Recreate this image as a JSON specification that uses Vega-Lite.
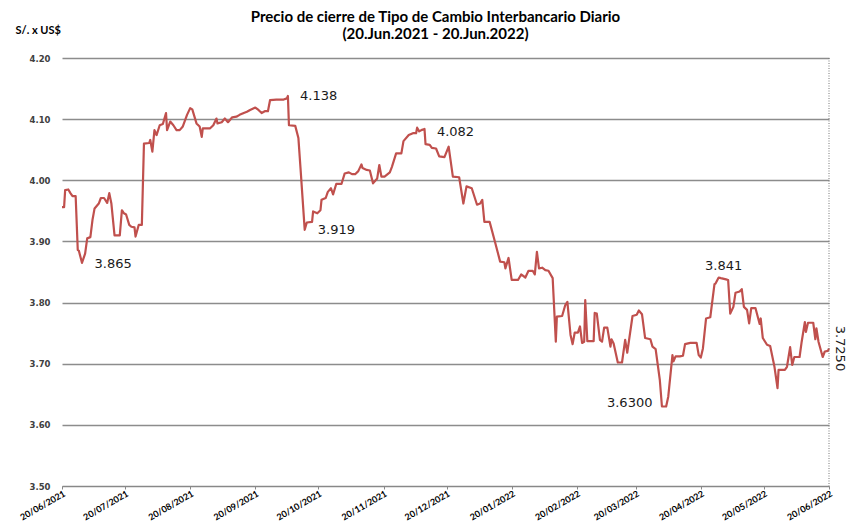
{
  "$schema": "https://vega.github.io/schema/vega-lite/v6.json",
  "width": 767,
  "height": 428,
  "autosize": {"type": "none"},
  "padding": {"left": 62, "top": 58, "right": 33, "bottom": 37},
  "background": "white",
  "config": {"view": {"stroke": null}},
  "title": {
    "text": ["Precio de cierre de Tipo de Cambio Interbancario Diario", "(20.Jun.2021 - 20.Jun.2022)"],
    "font": "Lato",
    "fontSize": 15,
    "fontWeight": "bold",
    "color": "#000000",
    "anchor": "middle",
    "offset": -18,
    "dx": -10,
    "lineHeight": 17
  },
  "datasets": {
    "fx": [
      {"date": "2021-06-20T00:00", "value": 3.956},
      {"date": "2021-06-21T00:00", "value": 3.956},
      {"date": "2021-06-21T12:00", "value": 3.984},
      {"date": "2021-06-23T00:00", "value": 3.985},
      {"date": "2021-06-24T00:00", "value": 3.979},
      {"date": "2021-06-25T00:00", "value": 3.974},
      {"date": "2021-06-26T12:00", "value": 3.974},
      {"date": "2021-06-27T12:00", "value": 3.886},
      {"date": "2021-06-28T00:00", "value": 3.885},
      {"date": "2021-06-29T12:00", "value": 3.865},
      {"date": "2021-07-01T00:00", "value": 3.880},
      {"date": "2021-07-02T00:00", "value": 3.905},
      {"date": "2021-07-03T12:00", "value": 3.907},
      {"date": "2021-07-04T12:00", "value": 3.935},
      {"date": "2021-07-05T12:00", "value": 3.954},
      {"date": "2021-07-07T12:00", "value": 3.962},
      {"date": "2021-07-08T12:00", "value": 3.971},
      {"date": "2021-07-10T00:00", "value": 3.971},
      {"date": "2021-07-11T12:00", "value": 3.963},
      {"date": "2021-07-12T12:00", "value": 3.979},
      {"date": "2021-07-13T12:00", "value": 3.962},
      {"date": "2021-07-15T00:00", "value": 3.910},
      {"date": "2021-07-17T12:00", "value": 3.910},
      {"date": "2021-07-18T12:00", "value": 3.951},
      {"date": "2021-07-19T12:00", "value": 3.946},
      {"date": "2021-07-20T12:00", "value": 3.944},
      {"date": "2021-07-22T00:00", "value": 3.927},
      {"date": "2021-07-23T00:00", "value": 3.924},
      {"date": "2021-07-24T12:00", "value": 3.923},
      {"date": "2021-07-25T00:00", "value": 3.908},
      {"date": "2021-07-26T12:00", "value": 3.927},
      {"date": "2021-07-28T00:00", "value": 3.927},
      {"date": "2021-07-29T00:00", "value": 4.060},
      {"date": "2021-07-31T12:00", "value": 4.061},
      {"date": "2021-08-01T00:00", "value": 4.066},
      {"date": "2021-08-02T00:00", "value": 4.047},
      {"date": "2021-08-03T00:00", "value": 4.082},
      {"date": "2021-08-04T00:00", "value": 4.074},
      {"date": "2021-08-05T12:00", "value": 4.090},
      {"date": "2021-08-07T00:00", "value": 4.092},
      {"date": "2021-08-08T12:00", "value": 4.110},
      {"date": "2021-08-09T00:00", "value": 4.082},
      {"date": "2021-08-10T12:00", "value": 4.096},
      {"date": "2021-08-12T00:00", "value": 4.090},
      {"date": "2021-08-13T12:00", "value": 4.082},
      {"date": "2021-08-15T00:00", "value": 4.082},
      {"date": "2021-08-16T12:00", "value": 4.088},
      {"date": "2021-08-18T12:00", "value": 4.107},
      {"date": "2021-08-20T00:00", "value": 4.118},
      {"date": "2021-08-21T00:00", "value": 4.116},
      {"date": "2021-08-23T00:00", "value": 4.093},
      {"date": "2021-08-24T12:00", "value": 4.088},
      {"date": "2021-08-25T12:00", "value": 4.071},
      {"date": "2021-08-26T00:00", "value": 4.085},
      {"date": "2021-08-29T12:00", "value": 4.085},
      {"date": "2021-08-31T00:00", "value": 4.090},
      {"date": "2021-09-01T12:00", "value": 4.101},
      {"date": "2021-09-02T00:00", "value": 4.093},
      {"date": "2021-09-04T00:00", "value": 4.095},
      {"date": "2021-09-05T12:00", "value": 4.101},
      {"date": "2021-09-07T00:00", "value": 4.095},
      {"date": "2021-09-09T00:00", "value": 4.103},
      {"date": "2021-09-11T00:00", "value": 4.104},
      {"date": "2021-09-12T12:00", "value": 4.107},
      {"date": "2021-09-14T12:00", "value": 4.110},
      {"date": "2021-09-16T00:00", "value": 4.112},
      {"date": "2021-09-17T12:00", "value": 4.115},
      {"date": "2021-09-20T00:00", "value": 4.119},
      {"date": "2021-09-21T12:00", "value": 4.115},
      {"date": "2021-09-23T00:00", "value": 4.110},
      {"date": "2021-09-24T12:00", "value": 4.113},
      {"date": "2021-09-26T00:00", "value": 4.113},
      {"date": "2021-09-27T00:00", "value": 4.131},
      {"date": "2021-09-30T00:00", "value": 4.132},
      {"date": "2021-10-03T12:00", "value": 4.132},
      {"date": "2021-10-05T00:00", "value": 4.134},
      {"date": "2021-10-05T12:00", "value": 4.138},
      {"date": "2021-10-06T00:00", "value": 4.090},
      {"date": "2021-10-09T00:00", "value": 4.089},
      {"date": "2021-10-10T12:00", "value": 4.069},
      {"date": "2021-10-11T12:00", "value": 4.020},
      {"date": "2021-10-13T12:00", "value": 3.919},
      {"date": "2021-10-14T12:00", "value": 3.931},
      {"date": "2021-10-17T00:00", "value": 3.932},
      {"date": "2021-10-17T12:00", "value": 3.949},
      {"date": "2021-10-19T12:00", "value": 3.946},
      {"date": "2021-10-21T00:00", "value": 3.951},
      {"date": "2021-10-21T12:00", "value": 3.968},
      {"date": "2021-10-23T12:00", "value": 3.971},
      {"date": "2021-10-24T12:00", "value": 3.981},
      {"date": "2021-10-26T00:00", "value": 3.987},
      {"date": "2021-10-27T00:00", "value": 3.977},
      {"date": "2021-10-28T12:00", "value": 3.994},
      {"date": "2021-10-31T00:00", "value": 3.994},
      {"date": "2021-11-01T12:00", "value": 4.011},
      {"date": "2021-11-03T12:00", "value": 4.013},
      {"date": "2021-11-05T00:00", "value": 4.010},
      {"date": "2021-11-06T12:00", "value": 4.010},
      {"date": "2021-11-08T00:00", "value": 4.015},
      {"date": "2021-11-09T12:00", "value": 4.026},
      {"date": "2021-11-10T00:00", "value": 4.020},
      {"date": "2021-11-12T00:00", "value": 4.017},
      {"date": "2021-11-13T12:00", "value": 4.016},
      {"date": "2021-11-15T00:00", "value": 3.995},
      {"date": "2021-11-17T00:00", "value": 4.003},
      {"date": "2021-11-18T00:00", "value": 4.025},
      {"date": "2021-11-19T00:00", "value": 4.006},
      {"date": "2021-11-20T12:00", "value": 4.006},
      {"date": "2021-11-23T00:00", "value": 4.013},
      {"date": "2021-11-24T00:00", "value": 4.022},
      {"date": "2021-11-26T00:00", "value": 4.044},
      {"date": "2021-11-28T12:00", "value": 4.044},
      {"date": "2021-11-29T12:00", "value": 4.064},
      {"date": "2021-12-02T00:00", "value": 4.074},
      {"date": "2021-12-04T00:00", "value": 4.077},
      {"date": "2021-12-05T12:00", "value": 4.077},
      {"date": "2021-12-06T00:00", "value": 4.086},
      {"date": "2021-12-07T00:00", "value": 4.080},
      {"date": "2021-12-08T00:00", "value": 4.082},
      {"date": "2021-12-09T12:00", "value": 4.084},
      {"date": "2021-12-10T00:00", "value": 4.059},
      {"date": "2021-12-12T00:00", "value": 4.058},
      {"date": "2021-12-13T00:00", "value": 4.053},
      {"date": "2021-12-15T00:00", "value": 4.052},
      {"date": "2021-12-16T12:00", "value": 4.039},
      {"date": "2021-12-19T00:00", "value": 4.038},
      {"date": "2021-12-21T00:00", "value": 4.055},
      {"date": "2021-12-23T00:00", "value": 4.006},
      {"date": "2021-12-26T00:00", "value": 4.005},
      {"date": "2021-12-28T00:00", "value": 3.962},
      {"date": "2021-12-29T12:00", "value": 3.990},
      {"date": "2022-01-01T00:00", "value": 3.987},
      {"date": "2022-01-03T12:00", "value": 3.960},
      {"date": "2022-01-05T00:00", "value": 3.962},
      {"date": "2022-01-06T00:00", "value": 3.968},
      {"date": "2022-01-07T00:00", "value": 3.932},
      {"date": "2022-01-09T12:00", "value": 3.932},
      {"date": "2022-01-12T00:00", "value": 3.900},
      {"date": "2022-01-14T12:00", "value": 3.867},
      {"date": "2022-01-16T12:00", "value": 3.866},
      {"date": "2022-01-17T00:00", "value": 3.856},
      {"date": "2022-01-18T12:00", "value": 3.873},
      {"date": "2022-01-20T00:00", "value": 3.837},
      {"date": "2022-01-23T00:00", "value": 3.837},
      {"date": "2022-01-24T12:00", "value": 3.846},
      {"date": "2022-01-26T12:00", "value": 3.841},
      {"date": "2022-01-28T00:00", "value": 3.852},
      {"date": "2022-01-30T00:00", "value": 3.852},
      {"date": "2022-01-31T00:00", "value": 3.846},
      {"date": "2022-02-01T00:00", "value": 3.883},
      {"date": "2022-02-02T00:00", "value": 3.856},
      {"date": "2022-02-03T12:00", "value": 3.857},
      {"date": "2022-02-05T00:00", "value": 3.853},
      {"date": "2022-02-06T12:00", "value": 3.852},
      {"date": "2022-02-08T12:00", "value": 3.840},
      {"date": "2022-02-10T00:00", "value": 3.736},
      {"date": "2022-02-10T12:00", "value": 3.777},
      {"date": "2022-02-13T00:00", "value": 3.778},
      {"date": "2022-02-14T12:00", "value": 3.796},
      {"date": "2022-02-15T12:00", "value": 3.801},
      {"date": "2022-02-17T00:00", "value": 3.747},
      {"date": "2022-02-18T00:00", "value": 3.732},
      {"date": "2022-02-19T00:00", "value": 3.751},
      {"date": "2022-02-20T12:00", "value": 3.751},
      {"date": "2022-02-21T12:00", "value": 3.761},
      {"date": "2022-02-22T12:00", "value": 3.734},
      {"date": "2022-02-23T12:00", "value": 3.736},
      {"date": "2022-02-24T00:00", "value": 3.804},
      {"date": "2022-02-25T00:00", "value": 3.737},
      {"date": "2022-02-28T00:00", "value": 3.737},
      {"date": "2022-02-28T12:00", "value": 3.783},
      {"date": "2022-03-01T12:00", "value": 3.782},
      {"date": "2022-03-03T00:00", "value": 3.739},
      {"date": "2022-03-04T00:00", "value": 3.736},
      {"date": "2022-03-05T00:00", "value": 3.759},
      {"date": "2022-03-06T12:00", "value": 3.759},
      {"date": "2022-03-08T00:00", "value": 3.728},
      {"date": "2022-03-08T12:00", "value": 3.740},
      {"date": "2022-03-09T12:00", "value": 3.733},
      {"date": "2022-03-11T12:00", "value": 3.702},
      {"date": "2022-03-13T12:00", "value": 3.702},
      {"date": "2022-03-15T00:00", "value": 3.739},
      {"date": "2022-03-16T00:00", "value": 3.718},
      {"date": "2022-03-18T12:00", "value": 3.778},
      {"date": "2022-03-20T12:00", "value": 3.780},
      {"date": "2022-03-21T12:00", "value": 3.787},
      {"date": "2022-03-23T00:00", "value": 3.781},
      {"date": "2022-03-24T12:00", "value": 3.742},
      {"date": "2022-03-27T00:00", "value": 3.740},
      {"date": "2022-03-28T00:00", "value": 3.728},
      {"date": "2022-03-29T12:00", "value": 3.724},
      {"date": "2022-03-31T12:00", "value": 3.673},
      {"date": "2022-04-01T12:00", "value": 3.630},
      {"date": "2022-04-03T12:00", "value": 3.630},
      {"date": "2022-04-04T12:00", "value": 3.646},
      {"date": "2022-04-06T12:00", "value": 3.714},
      {"date": "2022-04-07T00:00", "value": 3.704},
      {"date": "2022-04-08T00:00", "value": 3.712},
      {"date": "2022-04-10T00:00", "value": 3.712},
      {"date": "2022-04-11T12:00", "value": 3.713},
      {"date": "2022-04-12T12:00", "value": 3.732},
      {"date": "2022-04-15T00:00", "value": 3.734},
      {"date": "2022-04-18T00:00", "value": 3.734},
      {"date": "2022-04-19T00:00", "value": 3.714},
      {"date": "2022-04-20T00:00", "value": 3.710},
      {"date": "2022-04-21T00:00", "value": 3.725},
      {"date": "2022-04-22T12:00", "value": 3.774},
      {"date": "2022-04-24T12:00", "value": 3.776},
      {"date": "2022-04-26T12:00", "value": 3.830},
      {"date": "2022-04-27T00:00", "value": 3.831},
      {"date": "2022-04-28T12:00", "value": 3.841},
      {"date": "2022-04-29T12:00", "value": 3.840},
      {"date": "2022-05-02T00:00", "value": 3.838},
      {"date": "2022-05-03T00:00", "value": 3.837},
      {"date": "2022-05-04T00:00", "value": 3.782},
      {"date": "2022-05-05T12:00", "value": 3.793},
      {"date": "2022-05-06T12:00", "value": 3.816},
      {"date": "2022-05-08T12:00", "value": 3.818},
      {"date": "2022-05-09T12:00", "value": 3.822},
      {"date": "2022-05-10T12:00", "value": 3.793},
      {"date": "2022-05-12T00:00", "value": 3.788},
      {"date": "2022-05-13T00:00", "value": 3.766},
      {"date": "2022-05-14T00:00", "value": 3.791},
      {"date": "2022-05-16T00:00", "value": 3.791},
      {"date": "2022-05-18T00:00", "value": 3.765},
      {"date": "2022-05-18T12:00", "value": 3.774},
      {"date": "2022-05-19T12:00", "value": 3.742},
      {"date": "2022-05-21T12:00", "value": 3.731},
      {"date": "2022-05-23T00:00", "value": 3.729},
      {"date": "2022-05-25T00:00", "value": 3.696},
      {"date": "2022-05-26T12:00", "value": 3.660},
      {"date": "2022-05-27T00:00", "value": 3.690},
      {"date": "2022-05-30T00:00", "value": 3.690},
      {"date": "2022-05-31T00:00", "value": 3.695},
      {"date": "2022-06-01T12:00", "value": 3.727},
      {"date": "2022-06-02T12:00", "value": 3.698},
      {"date": "2022-06-03T12:00", "value": 3.711},
      {"date": "2022-06-06T00:00", "value": 3.711},
      {"date": "2022-06-07T00:00", "value": 3.736},
      {"date": "2022-06-08T12:00", "value": 3.768},
      {"date": "2022-06-09T00:00", "value": 3.752},
      {"date": "2022-06-10T00:00", "value": 3.767},
      {"date": "2022-06-12T12:00", "value": 3.767},
      {"date": "2022-06-13T12:00", "value": 3.740},
      {"date": "2022-06-14T00:00", "value": 3.758},
      {"date": "2022-06-15T00:00", "value": 3.736},
      {"date": "2022-06-17T00:00", "value": 3.711},
      {"date": "2022-06-18T00:00", "value": 3.720},
      {"date": "2022-06-19T12:00", "value": 3.721},
      {"date": "2022-06-20T00:00", "value": 3.725}
    ],
    "labels": [
      {"date": "2021-07-05T12:00", "value": 3.863, "label": "3.865"},
      {"date": "2021-10-11T06:00", "value": 4.138, "label": "4.138"},
      {"date": "2021-10-19T18:00", "value": 3.919, "label": "3.919"},
      {"date": "2021-12-15T10:00", "value": 4.079, "label": "4.082"},
      {"date": "2022-04-22T00:00", "value": 3.860, "label": "3.841"},
      {"date": "2022-03-06T08:00", "value": 3.636, "label": "3.6300"}
    ],
    "last": [
      {"date": "2022-06-25T00:00", "value": 3.725, "label": "3.7250"}
    ],
    "edge": [
      {"date": "2022-06-20T00:00"}
    ]
  },
  "layer": [
    {
      "data": {"name": "fx"},
      "mark": {"type": "line", "color": "#c0504d", "strokeWidth": 2.2, "strokeJoin": "round"},
      "encoding": {
        "x": {
          "field": "date",
          "type": "temporal",
          "scale": {"domain": [{"year": 2021, "month": 6, "date": 20}, {"year": 2022, "month": 6, "date": 20}]},
          "axis": {
            "title": null,
            "values": [
              {"year": 2021, "month": 6, "date": 20},
              {"year": 2021, "month": 7, "date": 20},
              {"year": 2021, "month": 8, "date": 20},
              {"year": 2021, "month": 9, "date": 20},
              {"year": 2021, "month": 10, "date": 20},
              {"year": 2021, "month": 11, "date": 20},
              {"year": 2021, "month": 12, "date": 20},
              {"year": 2022, "month": 1, "date": 20},
              {"year": 2022, "month": 2, "date": 20},
              {"year": 2022, "month": 3, "date": 20},
              {"year": 2022, "month": 4, "date": 20},
              {"year": 2022, "month": 5, "date": 20},
              {"year": 2022, "month": 6, "date": 20}
            ],
            "format": "%d/%m/%Y",
            "labelAngle": -30,
            "labelAlign": "right",
            "labelBaseline": "top",
            "labelFont": "Lato",
            "labelFontSize": 9,
            "labelFontWeight": "bold",
            "labelColor": "#000000",
            "labelPadding": 0,
            "labelOverlap": false,
            "labelFlush": false,
            "labelBound": false,
            "tickColor": "#888888",
            "tickSize": 3,
            "domainColor": "#888888",
            "grid": false
          }
        },
        "y": {
          "field": "value",
          "type": "quantitative",
          "scale": {"domain": [3.5, 4.2], "nice": false, "zero": false},
          "axis": {
            "values": [3.5, 3.6, 3.7, 3.8, 3.9, 4.0, 4.1, 4.2],
            "format": ".2f",
            "labelFont": "DejaVu Sans",
            "labelFontSize": 8.5,
            "labelFontWeight": "bold",
            "labelColor": "#404040",
            "labelPadding": 12,
            "domain": false,
            "ticks": false,
            "grid": true,
            "gridColor": "#8c8c8c",
            "gridWidth": 1.3,
            "title": "S/. x US$",
            "titleAngle": 0,
            "titleX": -47,
            "titleY": -28,
            "titleAlign": "left",
            "titleBaseline": "middle",
            "titleFont": "Lato",
            "titleFontSize": 11,
            "titleFontWeight": "bold",
            "titleColor": "#000000"
          }
        }
      }
    },
    {
      "data": {"name": "edge"},
      "mark": {"type": "rule", "color": "#777777", "strokeDash": [1, 1.5], "strokeWidth": 1},
      "encoding": {"x": {"field": "date", "type": "temporal"}}
    },
    {
      "data": {"name": "labels"},
      "mark": {"type": "text", "align": "left", "baseline": "middle", "font": "DejaVu Sans", "fontSize": 13, "color": "#1a1a1a"},
      "encoding": {
        "x": {"field": "date", "type": "temporal"},
        "y": {"field": "value", "type": "quantitative"},
        "text": {"field": "label", "type": "nominal"}
      }
    },
    {
      "data": {"name": "last"},
      "mark": {"type": "text", "align": "center", "baseline": "middle", "angle": 90, "font": "DejaVu Sans", "fontSize": 13, "color": "#1a1a1a"},
      "encoding": {
        "x": {"field": "date", "type": "temporal"},
        "y": {"field": "value", "type": "quantitative"},
        "text": {"field": "label", "type": "nominal"}
      }
    }
  ]
}
